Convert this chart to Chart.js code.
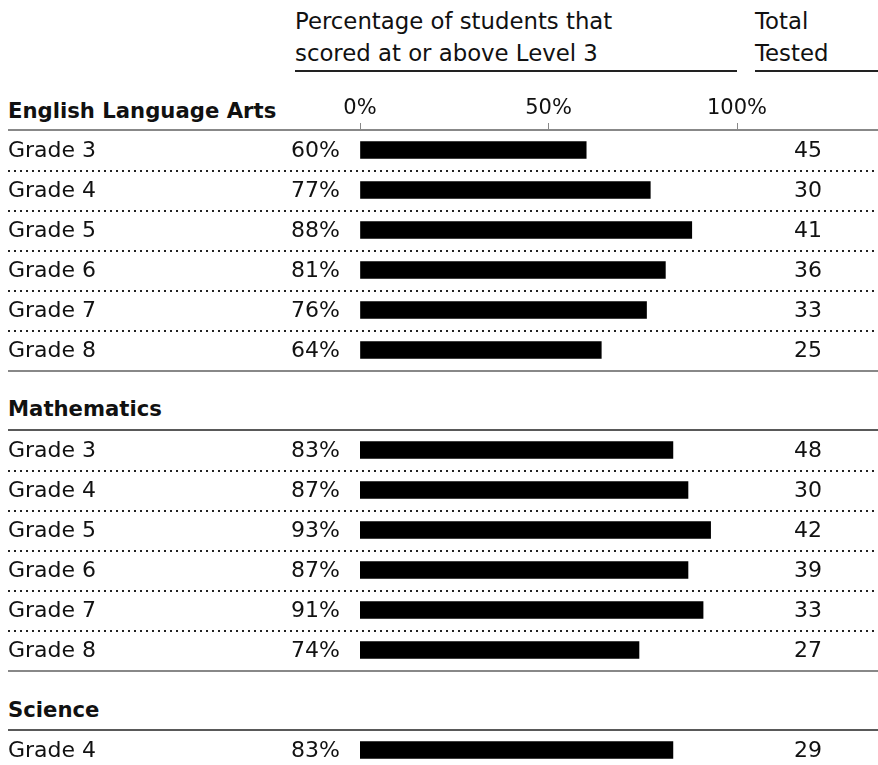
<!DOCTYPE html>
<html>
<head>
<meta charset="utf-8">
<script src="https://cdn.jsdelivr.net/npm/chart.js@4"></script>
<style>
    body { margin: 0; width: 878px; height: 765px; overflow: hidden; background: #fff; position: relative;
           font-family: "DejaVu Sans", sans-serif; color: #111; }
    .t { position: absolute; font-size: 22.8px; line-height: 32px; white-space: nowrap; }
    .h { position: absolute; left: 8px; font-size: 21.2px; line-height: 26px; font-weight: bold; white-space: nowrap; }
    .rule { position: absolute; height: 2px; background: #222; }
    canvas { position: absolute; left: 0; }
</style>
</head>
<body>
<div class="t" style="left:295px;top:5px">Percentage of students that<br>scored at or above Level 3</div>
<div class="rule" style="left:295px;top:70px;width:442px"></div>
<div class="t" style="left:755px;top:5px">Total<br>Tested</div>
<div class="rule" style="left:755px;top:70px;width:123px"></div>

<div class="h" style="top:98px">English Language Arts</div>
<div class="h" style="top:396px">Mathematics</div>
<div class="h" style="top:697px">Science</div>

<canvas id="ela" width="878" height="302" style="top:80px"></canvas>
<canvas id="math" width="878" height="262" style="top:420px"></canvas>
<canvas id="sci" width="878" height="62" style="top:720px"></canvas>

<script>
const elaGrades = ["Grade 3", "Grade 4", "Grade 5", "Grade 6", "Grade 7", "Grade 8"];
const elaPct = [60, 77, 88, 81, 76, 64];
const elaTested = [45, 30, 41, 36, 33, 25];

const mathGrades = ["Grade 3", "Grade 4", "Grade 5", "Grade 6", "Grade 7", "Grade 8"];
const mathPct = [83, 87, 93, 87, 91, 74];
const mathTested = [48, 30, 42, 39, 33, 27];

const sciGrades = ["Grade 4"];
const sciPct = [83];
const sciTested = [29];

const xTicks = [0, 50, 100];

const FONT = "DejaVu Sans";

// row labels, percentages, totals and separator lines
const rowText = {
    id: "rowText",
    afterDatasetsDraw(chart, args, opts) {
        const ctx = chart.ctx;
        const y = chart.scales.y;
        const area = chart.chartArea;
        const labels = chart.data.labels;
        const pct = chart.data.datasets[0].data;

        ctx.save();
        ctx.font = "22px " + FONT;
        ctx.fillStyle = "#111";
        ctx.textBaseline = "middle";
        labels.forEach((lab, i) => {
            const py = y.getPixelForValue(i) + 1;
            ctx.textAlign = "left";
            ctx.fillText(lab, 8, py);
            ctx.textAlign = "right";
            ctx.fillText(pct[i] + "%", 340, py);
            ctx.fillText(String(opts.tested[i]), 822, py);
        });

        // dotted separators
        ctx.strokeStyle = "#222";
        ctx.lineWidth = 2;
        ctx.setLineDash([2, 4]);
        for (let i = 0; i < labels.length - 1; i++) {
            const py = Math.round((y.getPixelForValue(i) + y.getPixelForValue(i + 1)) / 2);
            ctx.beginPath();
            ctx.moveTo(8, py + 1);
            ctx.lineTo(876, py + 1);
            ctx.stroke();
        }
        ctx.setLineDash([]);

        // top rule
        ctx.beginPath();
        if (opts.axis) {
            ctx.strokeStyle = "#888";
            ctx.lineWidth = 2;
        } else {
            ctx.strokeStyle = "#222";
            ctx.lineWidth = 1.5;
        }
        ctx.moveTo(8, area.top);
        ctx.lineTo(878, area.top);
        ctx.stroke();

        // bottom rule
        if (opts.bottom) {
            ctx.strokeStyle = "#888";
            ctx.lineWidth = 2;
            ctx.beginPath();
            ctx.moveTo(8, area.bottom + 1);
            ctx.lineTo(878, area.bottom + 1);
            ctx.stroke();
        }
        ctx.restore();
    }
};

function makeChart(id, grades, pct, tested, axis, bottom, padTop) {
    return new Chart(document.getElementById(id), {
        type: "bar",
        data: {
            labels: grades,
            datasets: [{
                data: pct,
                backgroundColor: "#000",
                barThickness: 17,
            }],
        },
        options: {
            indexAxis: "y",
            responsive: false,
            animation: false,
            events: [],
            layout: { padding: { left: 360, right: 141, top: padTop, bottom: 12 } },
            plugins: {
                legend: { display: false },
                tooltip: { enabled: false },
                rowText: { tested: tested, axis: axis, bottom: bottom },
            },
            scales: {
                x: {
                    display: axis,
                    position: "top",
                    min: 0,
                    max: 100,
                    afterBuildTicks: (scale) => {
                        scale.ticks = xTicks.map(v => ({ value: v }));
                    },
                    ticks: {
                        callback: (v) => v + "%",
                        color: "#111",
                        font: { family: FONT, size: 21 },
                        padding: 2,
                        maxRotation: 0,
                        autoSkip: false,
                    },
                    grid: {
                        drawOnChartArea: false,
                        drawTicks: true,
                        tickLength: 7,
                        color: "#888",
                        tickColor: "#888",
                    },
                    border: { display: false },
                },
                y: { display: false },
            },
        },
        plugins: [rowText],
    });
}

const elaChart = makeChart("ela", elaGrades, elaPct, elaTested, true, true, 10);
// shift padding so the axis line sits at y=130 on the page (canvas starts at 80)
const shift = 50 - elaChart.chartArea.top;
elaChart.options.layout.padding.top += shift;
elaChart.update();

makeChart("math", mathGrades, mathPct, mathTested, false, true, 10);
makeChart("sci", sciGrades, sciPct, sciTested, false, false, 10);
</script>
</body>
</html>
